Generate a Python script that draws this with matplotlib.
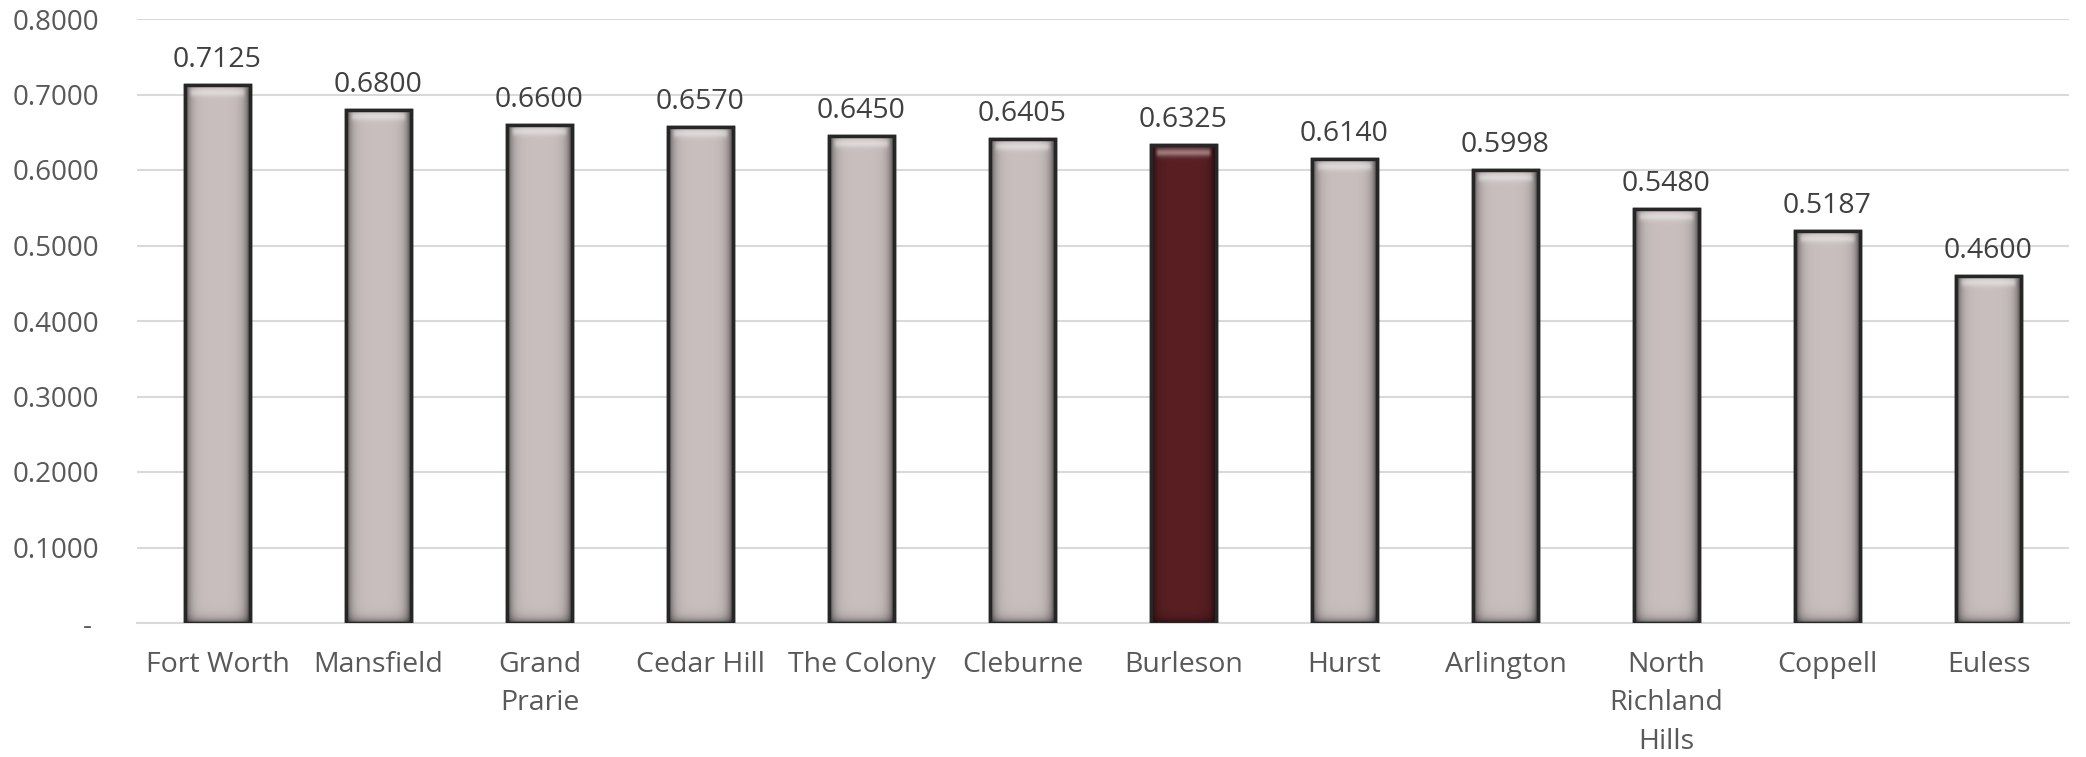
import numpy as np
import matplotlib
matplotlib.use('Agg')
import matplotlib.pyplot as plt
from matplotlib.colors import to_rgb

cities = ["Fort Worth", "Mansfield", "Grand\nPrarie", "Cedar Hill", "The Colony",
          "Cleburne", "Burleson", "Hurst", "Arlington", "North\nRichland\nHills",
          "Coppell", "Euless"]
values = [0.7125, 0.6800, 0.6600, 0.6570, 0.6450, 0.6405, 0.6325, 0.6140,
          0.5998, 0.5480, 0.5187, 0.4600]
highlight = "Burleson"
yticks = [0.0, 0.1, 0.2, 0.3, 0.4, 0.5, 0.6, 0.7, 0.8]

GRAY = "#C9BFBF"
MAROON = "#5A1F23"
EDGE = "#262626"

plt.rcParams['font.family'] = ['Open Sans', 'DejaVu Sans']

W, H, DPI = 20.86, 7.57, 100
fig = plt.figure(figsize=(W, H), dpi=DPI)
ax = fig.add_axes([137 / 2086, 1 - 623 / 757, (2069 - 137) / 2086, (623 - 19) / 757])

x = np.arange(len(cities))
colors = [MAROON if c == highlight else GRAY for c in cities]
bars = ax.bar(x, values, width=0.40, color=colors, edgecolor=EDGE, linewidth=2.5, zorder=3)

ax.set_xlim(-0.5, len(cities) - 0.5)
ax.set_ylim(0, 0.8)

# bevel shading images, derived from each bar patch
fig.canvas.draw()
for b, col in zip(bars, colors):
    x0, w, h = b.get_x(), b.get_width(), b.get_height()
    p0 = ax.transData.transform((x0, 0))
    p1 = ax.transData.transform((x0 + w, h))
    wp = max(int(round(p1[0] - p0[0])), 4)
    hp = max(int(round(p1[1] - p0[1])), 4)
    base = np.array(to_rgb(col))
    ii = np.arange(wp)
    jj = np.arange(hp)
    dside = np.minimum(ii, wp - 1 - ii).astype(float)
    dtop = jj.astype(float)
    dbot = (hp - 1 - jj).astype(float)
    side = 1 - 0.65 * np.exp(-dside / 4.5)
    bot = 1 - 0.5 * np.exp(-dbot / 4.0)
    shade = side[None, :] * bot[:, None]
    img = base[None, None, :] * shade[:, :, None]
    hl = 0.4 * np.exp(-((dtop - 7) / 4.0) ** 2)
    inner = np.clip((dside - 3) / 4.0, 0, 1)
    hlmap = hl[:, None] * inner[None, :]
    img = img + (1 - img) * hlmap[:, :, None]
    ax.imshow(np.clip(img, 0, 1), extent=(x0, x0 + w, 0, h), origin='upper',
              aspect='auto', interpolation='bilinear', zorder=3.5)

ax.bar(x, values, width=0.40, facecolor='none', edgecolor=EDGE, linewidth=2.5, zorder=4)
ax.set_xlim(-0.5, len(cities) - 0.5)
ax.set_ylim(0, 0.8)

for xi, v in zip(x, values):
    ax.annotate(f"{v:.4f}", (xi, v), xytext=(0, 13), textcoords='offset points',
                ha='center', va='baseline', fontsize=20.5, color='#404040', zorder=5)

ax.set_yticks(yticks)
ax.set_yticklabels(["- " if t == 0 else f"{t:.4f}" for t in yticks])
ax.set_xticks(x)
ax.set_xticklabels(cities, linespacing=1.5)
ax.tick_params(axis='y', length=0, pad=27, labelsize=20, labelcolor='#595959')
ax.tick_params(axis='x', length=0, pad=20, labelsize=20.5, labelcolor='#595959')

ax.grid(axis='y', color='#D9D9D9', linewidth=1.5, zorder=0)
ax.set_axisbelow(True)
for s in ['top', 'right', 'left']:
    ax.spines[s].set_visible(False)
ax.spines['bottom'].set_color('#D9D9D9')
ax.spines['bottom'].set_linewidth(1.5)

fig.savefig('out.png', dpi=DPI, facecolor='white')
